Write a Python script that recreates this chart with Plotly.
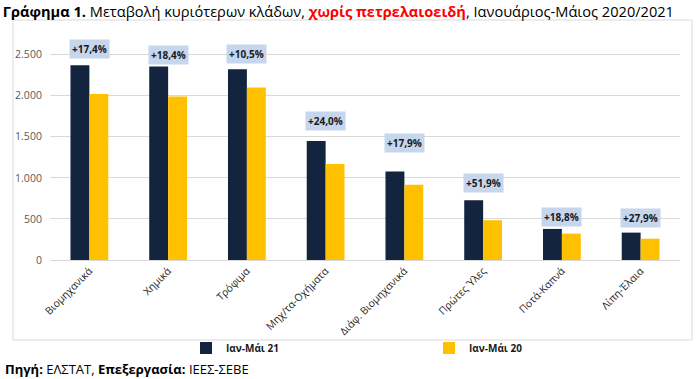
import plotly.graph_objects as go

categories = ["Βιομηχανικά", "Χημικά", "Τρόφιμα", "Μηχ/τα-Οχήματα",
              "Διάφ. Βιομηχανικά", "Πρώτες Ύλες", "Ποτά-Καπνά", "Λίπη-Έλαια"]
values_21 = [2370, 2354, 2321, 1447, 1078, 728, 378, 333]
values_20 = [2020, 1988, 2098, 1167, 915, 484, 321, 259]
change_labels = ["+17,4%", "+18,4%", "+10,5%", "+24,0%", "+17,9%", "+51,9%", "+18,8%", "+27,9%"]
series_names = ["Ιαν-Μάι 21", "Ιαν-Μάι 20"]
y_ticks = [0, 500, 1000, 1500, 2000, 2500]

label_shift = [16, 12, 15, 20, 28, 17, 12, 15]

FONT = "Open Sans"
W, H = 700, 379
ML, MR, MT, MB = 50, 20, 34, 119
pw = W - ML - MR
ph = H - MT - MB

def px_x(x):
    return (x - ML) / pw

def px_y(y):
    return (H - MB - y) / ph

fig = go.Figure()
fig.add_trace(go.Bar(x=categories, y=values_21, name="<b>" + series_names[0] + "</b>",
                     marker=dict(color="#13243f", line=dict(width=0))))
fig.add_trace(go.Bar(x=categories, y=values_20, name="<b>" + series_names[1] + "</b>",
                     marker=dict(color="#ffc000", line=dict(width=0))))

for cat, v, lab, s in zip(categories, values_21, change_labels, label_shift):
    fig.add_annotation(x=cat, y=v, text="<b>" + lab + "</b>", showarrow=False,
                       yanchor="middle", yshift=s,
                       bgcolor="#c6d6ec", borderpad=2,
                       font=dict(family=FONT, size=10, color="#1a1a1a"))

# chart frame
fig.add_shape(type="rect", xref="paper", yref="paper",
              x0=px_x(13), x1=px_x(692), y0=px_y(340), y1=px_y(20),
              line=dict(color="#d9d9d9", width=1), layer="below")

fig.add_annotation(xref="paper", yref="paper", x=px_x(3), y=px_y(369),
                   xanchor="left", yanchor="middle", showarrow=False,
                   text="<b>Πηγή:</b> ΕΛΣΤΑΤ, <b>Επεξεργασία:</b> ΙΕΕΣ-ΣΕΒΕ",
                   font=dict(family=FONT, size=13, color="#000000"))

fig.update_layout(
    width=W, height=H,
    margin=dict(l=ML, r=MR, t=MT, b=MB, autoexpand=False),
    paper_bgcolor="white", plot_bgcolor="white",
    separators=",.",
    barmode="group", bargap=0.52, bargroupgap=0,
    font=dict(family=FONT, size=10, color="#404040"),
    title=dict(
        text="<b>Γράφημα 1.</b> Μεταβολή κυριότερων κλάδων, "
             "<b><span style='color:#ff0000'>χωρίς πετρελαιοειδή</span></b>, "
             "Ιανουάριος-Μάιος 2020/2021",
        xref="container", x=0.004, xanchor="left",
        yref="container", y=1 - 12 / H, yanchor="middle",
        font=dict(family=FONT, size=14.6, color="#000000")),
    xaxis=dict(tickangle=-45, showline=True, linecolor="#d9d9d9", linewidth=1,
               tickfont=dict(family=FONT, size=10.3, color="#262626"),
               ticks="", automargin=False),
    yaxis=dict(range=[0, 2750], tickvals=y_ticks, tickformat=",d",
               showgrid=True, gridcolor="#d9d9d9", gridwidth=1,
               zeroline=False, showline=False, automargin=False,
               tickfont=dict(family=FONT, size=10.5, color="#595959"),
               ticks="outside", ticklen=5, tickcolor="rgba(0,0,0,0)"),
    legend=dict(orientation="h", xref="container", yref="container",
                x=186 / W, y=1 - 348 / H, xanchor="left",
                yanchor="middle", entrywidth=198, entrywidthmode="pixels",
                bgcolor="rgba(0,0,0,0)",
                font=dict(family=FONT, size=10, color="#1a1a1a"),
                itemwidth=30, traceorder="normal"),
    showlegend=True,
)

fig.write_html("out.html", config={"displayModeBar": False},
               post_script="document.body.style.margin='0';")
